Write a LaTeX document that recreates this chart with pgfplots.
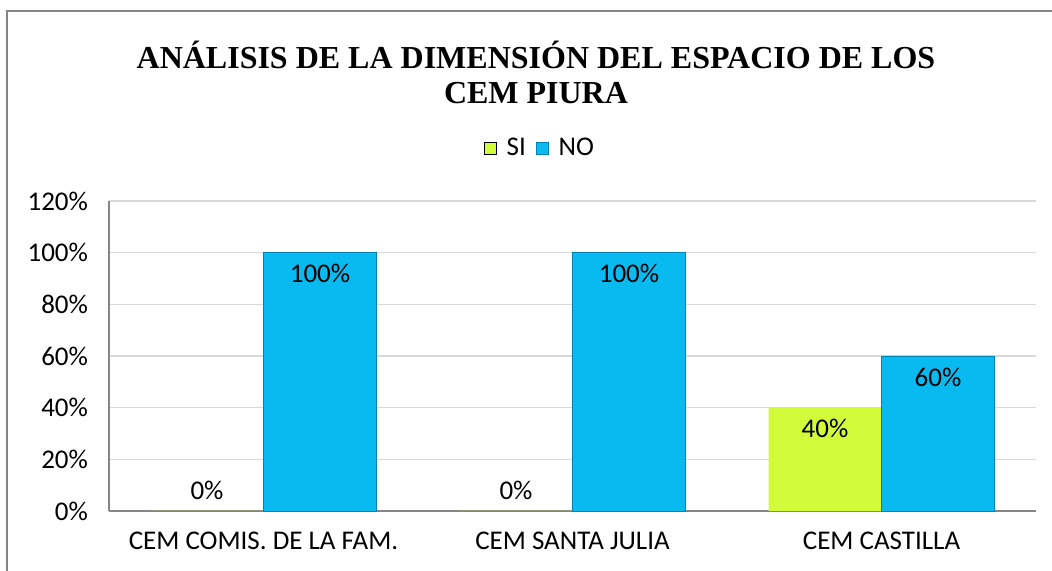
\documentclass[border=0pt]{standalone}
\usepackage{pgfplots}
\pgfplotsset{compat=1.18}
\usepackage{fontspec}
\setmainfont{Carlito}
\newfontfamily\titlefont{Liberation Serif}
\definecolor{siC}{RGB}{210,252,58}
\definecolor{siD}{RGB}{160,200,40}
\definecolor{noC}{RGB}{8,186,240}
\definecolor{noD}{RGB}{0,130,180}
\definecolor{gridC}{RGB}{217,217,217}
\definecolor{axC}{RGB}{134,134,134}
\begin{document}
\begin{tikzpicture}
\path[use as bounding box] (-54.5pt,-30pt) rectangle (471.5pt,255.5pt);
\draw[color=axC, line width=1.2pt] (-51pt,-40pt) -- (-51pt,250pt) -- (480pt,250pt);
\begin{axis}[
  at={(0,0)}, anchor=south west,
  scale only axis, width=463.5pt, height=155pt,
  ymin=0, ymax=120, ytick={0,20,...,120},
  xmin=-0.5, xmax=2.5, xtick={0,1,2},
  xticklabels={CEM COMIS. DE LA FAM., CEM SANTA JULIA, CEM CASTILLA},
  yticklabel={\pgfmathprintnumber[assume math mode=true]{\tick}\%},
  ymajorgrids, grid style={color=gridC, line width=0.8pt},
  major tick length=0pt,
  axis x line*=bottom, axis y line*=left,
  x axis line style={color=axC, line width=1pt, -},
  y axis line style={color=axC, line width=1pt, -},
  ticklabel style={font=\fontsize{13.5}{15}\selectfont},
  xticklabel style={yshift=-7pt},
  yticklabel style={xshift=-7pt},
  ybar, bar width=56.5pt,
  nodes near coords={\pgfmathprintnumber[assume math mode=true,fixed,precision=0]{\pgfplotspointmeta}\%},
  visualization depends on={rawy \as \rawy},
  every node near coord/.append style={anchor=center, font=\fontsize{13.5}{15}\selectfont, text=black,
    yshift={ifthenelse(\rawy<0.5,10.5,-10.5)}},
  legend style={at={(0.466,1.171)}, anchor=center, draw=none, legend columns=2,
    font=\fontsize{13.5}{15}\selectfont, column sep=3pt},
  legend image code/.code={\draw[#1] (0pt,-3pt) rectangle (6pt,3pt);},
  clip=false,
]
\addplot[bar shift=-28.25pt, fill=siC, draw=none] coordinates {(0,0) (1,0) (2,40)};
\addplot[bar shift=28.25pt, fill=noC, draw=noD] coordinates {(0,100) (1,100) (2,60)};
\legend{SI, NO}
\end{axis}
\node[font=\titlefont\bfseries\fontsize{16}{17.5}\selectfont, align=center] at (213.5pt,219.5pt)
  {ANÁLISIS DE LA DIMENSIÓN DEL ESPACIO DE LOS\\CEM PIURA};
\end{tikzpicture}
\end{document}
